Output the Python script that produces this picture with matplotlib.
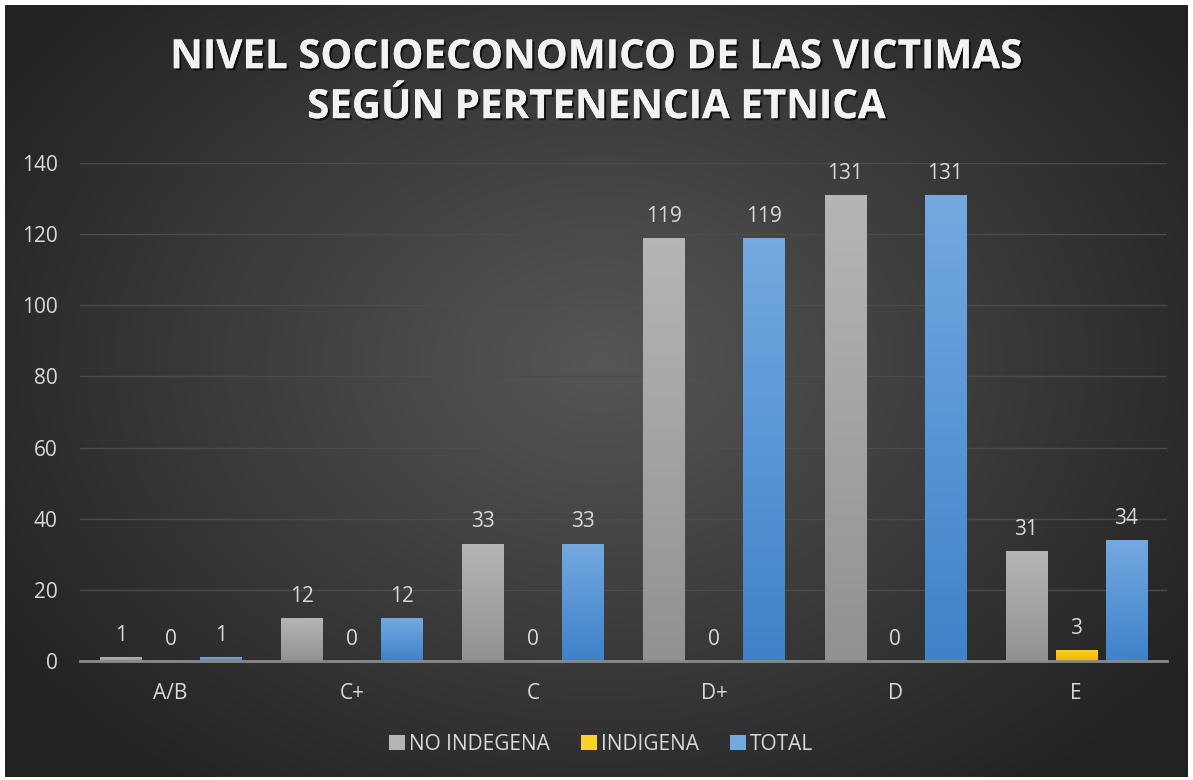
import numpy as np
import matplotlib
matplotlib.use("Agg")
import matplotlib.pyplot as plt
import matplotlib.patheffects as pe
from matplotlib.colors import LinearSegmentedColormap

plt.rcParams['font.family'] = ['Open Sans', 'DejaVu Sans']

categorias = ["A/B", "C+", "C", "D+", "D", "E"]
no_indigena = [1, 12, 33, 119, 131, 31]
indigena = [0, 0, 0, 0, 0, 3]
total = [1, 12, 33, 119, 131, 34]
series = ["NO INDEGENA", "INDIGENA", "TOTAL"]
titulo1 = "NIVEL SOCIOECONOMICO DE LAS VICTIMAS"
titulo2 = "SEGÚN PERTENENCIA ETNICA"

# degradados (arriba, abajo)
colores = [("#b5b5b5", "#929292"), ("#ffcf2a", "#f2b300"), ("#74a9e0", "#3f82c9")]
texto = "#d9d9d9"

fig = plt.figure(figsize=(11.93, 7.80), dpi=100, facecolor="white")

# fondo radial
bg = fig.add_axes([0.0042, 0.0038, 0.9916, 0.9898])
yy, xx = np.mgrid[0:780, 0:1193]
r = np.sqrt(((xx - 600) / 700.0) ** 2 + ((yy - 360) / 520.0) ** 2)
g = np.clip(86 - 50 * r, 34, 90) / 255.0
bg.imshow(np.dstack([g, g, g]), aspect="auto", extent=(0, 1, 0, 1))
bg.set_axis_off()

ax = fig.add_axes([0.0671, 0.1526, 0.911, 0.6385])
ax.set_facecolor("none")
x = np.arange(len(categorias))
ancho = 0.227
paso = 0.276

for i, (vals, (c1, c2), nombre) in enumerate(zip([no_indigena, indigena, total], colores, series)):
    barras = ax.bar(x + (i - 1) * paso, vals, ancho, color=c1, label=nombre, zorder=2)
    cmap = LinearSegmentedColormap.from_list("g%d" % i, [c2, c1])
    for rect, v in zip(barras, vals):
        if v > 0:
            x0, y0 = rect.get_x(), rect.get_y()
            im = ax.imshow(np.linspace(0, 1, 64).reshape(-1, 1), cmap=cmap, origin="lower",
                           extent=(x0, x0 + rect.get_width(), y0, y0 + rect.get_height()),
                           aspect="auto", zorder=2.1)
            im.set_clip_path(rect)
        ax.annotate(str(v), (rect.get_x() + rect.get_width() / 2, v), xytext=(0, 8),
                    textcoords="offset points", ha="center", va="bottom",
                    color=texto, fontsize=15)

ax.set_xlim(-0.5, len(categorias) - 0.5)
ax.set_ylim(0, 140)
ax.set_yticks(range(0, 141, 20))
ax.set_xticks(x)
ax.set_xticklabels(categorias)
ax.tick_params(axis="y", length=0, pad=16, labelcolor=texto, labelsize=15)
ax.tick_params(axis="x", length=0, pad=16, labelcolor=texto, labelsize=15)
ax.grid(axis="y", color="#4c4c4c", linewidth=1, zorder=0)
ax.set_axisbelow(True)
for s in ["top", "right", "left"]:
    ax.spines[s].set_visible(False)
ax.spines["bottom"].set_color("#8a8a8a")
ax.spines["bottom"].set_linewidth(2)
ax.spines["bottom"].set_zorder(3)

leg = fig.legend(loc="center", bbox_to_anchor=(0.504, 0.046), ncol=3, frameon=False,
                 fontsize=15, handlelength=0.75, handleheight=0.75, handletextpad=0.2,
                 columnspacing=1.5)
for t in leg.get_texts():
    t.set_color(texto)

sombra = [pe.withSimplePatchShadow(offset=(1.5, -1.5), shadow_rgbFace="black", alpha=0.7), pe.Normal()]
for yt, t in [(0.926, titulo1), (0.862, titulo2)]:
    fig.text(0.5, yt, t, ha="center", va="center", color="#f2f2f2", fontsize=29,
             fontweight="bold", path_effects=sombra)

fig.savefig("out.png", dpi=100, facecolor=fig.get_facecolor())
